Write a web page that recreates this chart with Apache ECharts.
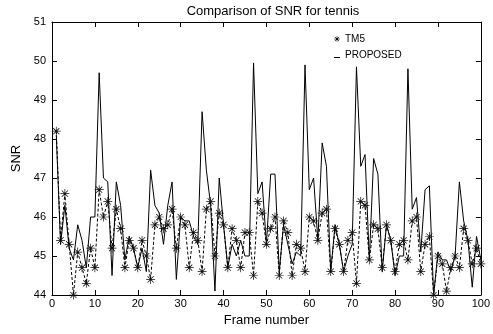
<!DOCTYPE html>
<html>
<head>
<meta charset="utf-8">
<script src="https://cdn.jsdelivr.net/npm/echarts@6/dist/echarts.min.js"></script>
<style>
  html, body { margin: 0; padding: 0; background: #fff; }
  #chart { width: 493px; height: 334px; }
</style>
</head>
<body>
<div id="chart"></div>
<script>
// x ticks and y ticks as drawn on the axes
const xTicks = [0, 10, 20, 30, 40, 50, 60, 70, 80, 90, 100]
const yTicks = [44, 45, 46, 47, 48, 49, 50, 51]

// SNR per frame (frames 1..100)
const tm5 = [
  48.2, 45.4, 46.6, 45.3, 44.0, 45.1, 44.7, 44.3, 45.2, 44.7,
  46.7, 46.0, 46.4, 45.2, 46.2, 45.7, 44.7, 45.4, 45.2, 44.7,
  45.4, 45.0, 44.4, 45.8, 46.0, 45.7, 45.8, 46.2, 45.2, 46.0,
  45.8, 44.7, 45.6, 45.4, 44.6, 46.2, 46.4, 45.0, 46.1, 45.8,
  44.7, 45.7, 45.4, 44.7, 45.6, 45.6, 44.5, 46.4, 46.1, 45.3,
  45.7, 46.0, 44.5, 45.9, 45.6, 44.5, 45.3, 45.2, 44.6, 46.0,
  45.9, 45.4, 46.1, 46.2, 44.6, 45.7, 45.3, 44.6, 45.4, 45.6,
  44.3, 46.4, 46.3, 44.9, 45.8, 45.7, 44.7, 45.8, 45.4, 44.6,
  45.3, 45.4, 44.9, 45.9, 46.0, 44.6, 45.3, 45.5, 44.0, 45.0,
  44.8, 44.1, 44.7, 45.0, 44.7, 45.7, 45.4, 44.8, 45.2, 44.8
]
const proposed = [
  48.1, 45.3, 46.3, 45.2, 44.9, 45.8, 45.4, 44.7, 46.0, 46.0,
  49.7, 47.0, 46.9, 44.5, 46.9, 46.3, 44.9, 45.5, 45.2, 44.7,
  45.2, 44.6, 47.2, 46.3, 46.1, 45.3, 46.3, 46.9, 44.4, 46.0,
  45.9, 45.9, 45.5, 45.3, 48.7, 47.2, 46.3, 44.1, 47.0, 45.8,
  44.7, 45.3, 45.0, 45.4, 45.0, 45.0, 49.95, 46.6, 46.9, 45.3,
  47.1, 47.1, 44.6, 45.8, 45.3, 44.8, 45.1, 45.0, 49.9, 46.7,
  47.0, 45.4, 47.9, 47.3, 44.6, 45.8, 45.3, 44.6, 45.0, 45.3,
  49.85, 47.3, 47.6, 44.9, 47.5, 47.1, 44.6, 45.8, 45.4, 44.5,
  45.0, 45.0, 49.8, 46.2, 46.5, 45.1, 46.7, 46.8, 44.0, 45.1,
  44.9, 44.9, 44.6, 45.0, 46.9, 45.9, 45.4, 44.2, 45.5, 44.9
]

const toPairs = vals => vals.map((v, i) => [i + 1, v])

// matlab style '*' marker (plus + cross), thin strokes
const starPath = 'path://M0,4.6L10,4.6L10,5.4L0,5.4Z M4.6,0L5.4,0L5.4,10L4.6,10Z ' +
  'M1.3,1.9L1.9,1.3L8.7,8.1L8.1,8.7Z M8.1,1.3L8.7,1.9L1.9,8.7L1.3,8.1Z'
const underscorePath = 'path://M0,0L10,0L10,0Z M0,8.5L10,8.5L10,10L0,10Z'

const font = '"Liberation Sans", Arial, Helvetica, sans-serif'

const chart = echarts.init(document.getElementById('chart'))

const boxAxis = {
  min: xTicks[0],
  max: xTicks[xTicks.length - 1],
  interval: 10,
  axisLine: { show: true, onZero: false, lineStyle: { color: '#000', width: 1 } },
  axisTick: { show: true, inside: true, length: 5, lineStyle: { color: '#000' } },
  splitLine: { show: false }
}

const option = {
  animation: false,
  backgroundColor: '#fff',
  title: {
    text: 'Comparison of SNR for tennis',
    left: 268,
    textAlign: 'center',
    top: 0,
    textStyle: { fontFamily: font, fontSize: 13, fontWeight: 'normal', color: '#000' }
  },
  legend: {
    orient: 'vertical',
    left: 334,
    top: 34,
    padding: 0,
    itemWidth: 6,
    itemHeight: 6,
    itemGap: 6,
    textStyle: { fontFamily: font, fontSize: 10, color: '#000' },
    data: [
      { name: 'TM5', icon: starPath, itemStyle: { color: '#000', borderWidth: 0 } },
      { name: 'PROPOSED', icon: underscorePath, itemStyle: { color: '#000', borderWidth: 0 } }
    ]
  },
  grid: { left: 52, right: 9, top: 22, bottom: 39 },
  xAxis: [
    Object.assign({}, boxAxis, {
      type: 'value',
      position: 'bottom',
      name: 'Frame number',
      nameLocation: 'middle',
      nameGap: 16,
      nameTextStyle: { fontFamily: font, fontSize: 13, color: '#000' },
      axisLabel: { fontFamily: font, fontSize: 11, color: '#000', margin: 3 }
    }),
    Object.assign({}, boxAxis, {
      type: 'value',
      position: 'top',
      axisLabel: { show: false }
    })
  ],
  yAxis: [
    Object.assign({}, boxAxis, {
      type: 'value',
      min: yTicks[0],
      max: yTicks[yTicks.length - 1],
      interval: 1,
      position: 'left',
      name: 'SNR',
      nameLocation: 'middle',
      nameGap: 27,
      nameTextStyle: { fontFamily: font, fontSize: 13, color: '#000' },
      axisLabel: { fontFamily: font, fontSize: 11, color: '#000', margin: 6 }
    }),
    Object.assign({}, boxAxis, {
      type: 'value',
      min: yTicks[0],
      max: yTicks[yTicks.length - 1],
      interval: 1,
      position: 'right',
      axisLabel: { show: false }
    })
  ],
  series: [
    {
      name: 'TM5',
      type: 'line',
      data: toPairs(tm5),
      symbol: starPath,
      symbolSize: 9,
      showAllSymbol: true,
      itemStyle: { color: '#111' },
      lineStyle: { color: '#000', width: 1, type: [3, 2] },
      z: 3
    },
    {
      name: 'PROPOSED',
      type: 'line',
      data: toPairs(proposed),
      showSymbol: false,
      symbol: 'none',
      itemStyle: { color: '#000' },
      lineStyle: { color: '#000', width: 1 },
      z: 2
    }
  ]
}

chart.setOption(option)
</script>
</body>
</html>
